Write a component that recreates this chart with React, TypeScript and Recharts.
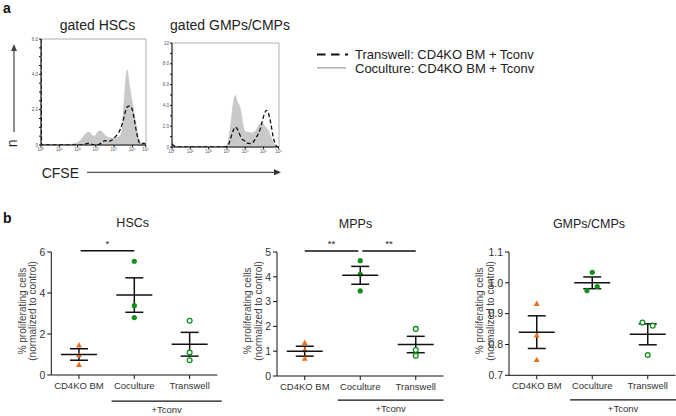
import React from 'react';
import {
  ComposedChart, Area, Line, XAxis, YAxis, ReferenceArea, Legend,
  ScatterChart, Scatter, ErrorBar, ReferenceLine, Label,
} from 'recharts';

const FONT = '"Liberation Sans", Arial, Helvetica, sans-serif';

// ---------------- Panel a: CFSE histograms (x = log10 decade) ----------------
const hscHistX = [0, 0.03, 0.5, 1.0, 1.5, 1.85, 2.1, 2.3, 2.5, 2.65, 2.8, 2.95, 3.05, 3.2, 3.35, 3.5, 3.7, 3.9, 4.1, 4.25, 4.35, 4.45, 4.55, 4.65, 4.72, 4.8, 4.9, 5.0, 5.1, 5.2, 5.3, 5.4, 5.5, 5.6, 5.73];
const hscCocultureCounts = [0, 0, 0.02, 0.02, 0.03, 0.08, 0.2, 0.45, 0.68, 0.72, 0.55, 0.5, 0.65, 0.8, 0.75, 0.55, 0.42, 0.4, 0.42, 0.45, 0.55, 1.0, 2.4, 3.8, 4.25, 3.7, 3.0, 2.4, 1.8, 1.2, 0.6, 0.25, 0.08, 0.02, 0];
const hscTranswellCounts = [6.0, 0, 0, 0, 0, 0, 0, 0.02, 0.08, 0.1, 0.03, 0, 0, 0.05, 0.15, 0.25, 0.2, 0.3, 0.5, 0.7, 0.9, 1.2, 1.6, 2.0, 2.15, 2.2, 2.2, 2.0, 1.5, 0.9, 0.4, 0.1, 0.05, 0.1, 0.05];

const gmpHistX = [0, 0.1, 0.3, 1, 2, 2.9, 3.05, 3.2, 3.35, 3.46, 3.58, 3.68, 3.78, 3.87, 3.96, 4.06, 4.2, 4.33, 4.45, 4.6, 4.8, 4.94, 5.05, 5.17, 5.26, 5.4, 5.54, 5.65, 5.72, 5.83];
const gmpCocultureCounts = [0, 0, 0, 0, 0.02, 0.05, 0.4, 2.0, 4.2, 4.97, 4.3, 4.0, 3.3, 2.25, 1.6, 1.45, 1.4, 1.35, 1.4, 1.6, 2.2, 2.3, 2.1, 1.8, 1.6, 1.0, 0.4, 0.1, 0, 0];
const gmpTranswellCounts = [0.3, 0.15, 0, 0, 0, 0.02, 0.1, 0.8, 1.6, 1.92, 1.7, 1.3, 0.9, 0.7, 0.6, 0.4, 0.35, 0.33, 0.5, 0.9, 1.6, 2.5, 3.2, 3.53, 3.3, 2.3, 0.9, 0.3, 0.05, 0];

const histTickLabels = ['10⁰', '10¹', '10²', '10³', '10⁴', '10⁵', '10⁶'];
const hscHistTicks = [0, 1, 2, 3, 4, 5, 5.73];
const gmpHistTicks = [0, 1, 2, 3, 4, 5, 5.83];
const hscHistYTicks = [0, 0.5, 1, 1.5, 2, 2.5, 3, 3.5, 4, 4.5, 5, 5.5, 6];
const hscHistYLabels = ['0', '', '', '', '2.0', '', '', '', '4.0', '', '', '', '6.0'];
const gmpHistYTicks = [0, 1, 2, 3, 4, 5, 6, 7, 8, 9, 10];
const gmpHistYLabels = ['0', '', '2.0', '', '4.0', '', '6.0', '', '8.0', '', '10'];

const transwellName = 'Transwell: CD4KO BM + Tconv';
const cocultureName = 'Coculture: CD4KO BM + Tconv';

// ---------------- Panel b: % proliferating cells ----------------
const categories = ['CD4KO BM', 'Coculture', 'Transwell'];

const hscCD4KO = [1.45, 0.97, 0.5];
const hscCoculture = [5.55, 3.38, 2.8];
const hscTranswell = [2.65, 1.1, 0.72];
const hscMeans = [1.0, 3.9, 1.5];
const hscSem = [0.28, 0.84, 0.58];
const hscJitter = [[0, 0, 0], [0, 0, 0], [0, 0, 0]];
const hscYTicks = [0, 2, 4, 6];
const hscYLabels = ['0', '2', '4', '6'];

const mppCD4KO = [1.34, 1.05, 0.7];
const mppCoculture = [4.65, 4.1, 3.43];
const mppTranswell = [1.9, 1.05, 0.82];
const mppMeans = [1.0, 4.06, 1.27];
const mppSem = [0.2, 0.36, 0.33];
const mppJitter = [[0, 0, 0], [0, 0, 0], [0, 0, 0]];
const mppYTicks = [0, 1, 2, 3, 4, 5];
const mppYLabels = ['0', '1', '2', '3', '4', '5'];

const gmpCD4KO = [0.932, 0.83, 0.75];
const gmpCoculture = [0.975, 1.034, 0.988];
const gmpTranswell = [0.871, 0.861, 0.766];
const gmpMeans = [0.84, 1.0, 0.833];
const gmpSem = [0.053, 0.019, 0.034];
const gmpJitter = [[0, 0, 0], [-0.095, 0, 0.09], [-0.095, 0.09, 0]];
const gmpYTicks = [0.7, 0.8, 0.9, 1.0, 1.1];
const gmpYLabels = ['0.7', '0.8', '0.9', '1.0', '1.1'];

// significance brackets and "+Tconv" group line, in data units
const hscSig = [{ x1: 0.03, x2: 1.0, y: 6.06, label: '*' }];
const mppSig = [
  { x1: 0.0, x2: 0.965, y: 5.04, label: '**' },
  { x1: 1.037, x2: 2.0, y: 5.04, label: '**' },
];
const gmpSig: any[] = [];
const hscTconv = { x1: 0.59, x2: 2.58, y: -1.27, label: '+Tconv' };
const mppTconv = { x1: 0.594, x2: 2.5, y: -0.97, label: '+Tconv' };
const gmpTconv = { x1: 0.6, x2: 2.51, y: 0.62, label: '+Tconv' };

const ORANGE = '#f36a14';
const GREEN = '#10901a';
const INK = '#111';

const pts = (vals: number[], cat: number, jit: number[]) => vals.map((v, i) => ({ x: cat + jit[i], y: v }));

const Triangle = (p: any) => (
  <polygon points={`${p.cx},${p.cy - 3.2} ${p.cx + 2.9},${p.cy + 2.2} ${p.cx - 2.9},${p.cy + 2.2}`} fill={ORANGE} />
);
const Dot = (p: any) => <circle cx={p.cx} cy={p.cy} r={2.6} fill={GREEN} />;
const OpenDot = (p: any) => <circle cx={p.cx} cy={p.cy} r={2.4} fill="#fff" stroke={GREEN} strokeWidth={1.3} />;
const MeanLine = (p: any) => (
  <line x1={p.cx - 18} x2={p.cx + 18} y1={p.cy} y2={p.cy} stroke={INK} strokeWidth={1.5} />
);

function HistPanel(props: any) {
  const { left, top, width, height, margin, xs, cc, tw, xMax, yMax, xTicks, yTicks, yLabels, legend } = props;
  const rows = xs.map((x: number, i: number) => ({ x, cc: cc[i], tw: tw[i] }));
  return (
    <div style={{ position: 'absolute', left, top }}>
      <ComposedChart width={width} height={height} margin={margin} data={rows}>
        <XAxis type="number" dataKey="x" domain={[0, xMax]} ticks={xTicks} interval={0}
          tickFormatter={(v: number) => histTickLabels[xTicks.indexOf(v)]}
          height={10} tickSize={2} tickMargin={1}
          axisLine={{ stroke: INK }} tickLine={{ stroke: INK }}
          tick={{ fontSize: 4.5, fill: '#555', fontFamily: FONT }} allowDataOverflow />
        <YAxis type="number" domain={[0, yMax]} ticks={yTicks} interval={0}
          tickFormatter={(v: number) => yLabels[yTicks.indexOf(v)]}
          width={20} tickSize={2} tickMargin={1}
          axisLine={{ stroke: INK }} tickLine={{ stroke: INK }}
          tick={{ fontSize: 4.5, fill: '#555', fontFamily: FONT }} allowDataOverflow />
        <ReferenceArea x1={0} x2={xMax} y1={0} y2={yMax} fill="none" stroke="#999" strokeWidth={0.8} />
        <Area dataKey="cc" name={cocultureName} type="monotone" fill="#c9c9c9" fillOpacity={1}
          stroke="#c2c2c2" strokeWidth={0.6} isAnimationActive={false} />
        <Line dataKey="tw" name={transwellName} type="monotone" stroke={INK} strokeWidth={1.3}
          strokeDasharray="4 2.5" dot={false} isAnimationActive={false} />
        {legend && (
          <Legend layout="horizontal" verticalAlign="middle" align="center"
            wrapperStyle={{ position: 'absolute', left: 167, top: 17.5, width: 240, height: 30 }}
            content={() => (
              <svg width={240} height={30} style={{ display: 'block', overflow: 'visible' }}>
                <line x1={0} x2={31} y1={6.5} y2={6.5} stroke={INK} strokeWidth={2} strokeDasharray="8.5 5.5" />
                <text x={38} y={11} fontSize={13} fill="#222" fontFamily={FONT}>{transwellName}</text>
                <line x1={0} x2={29} y1={19.8} y2={19.8} stroke="#b3b3b3" strokeWidth={1.6} />
                <text x={38} y={25} fontSize={13} fill="#222" fontFamily={FONT}>{cocultureName}</text>
              </svg>
            )} />
        )}
      </ComposedChart>
    </div>
  );
}

function ScatterPanel(props: any) {
  const { left, width, margin, yAxisWidth, domain, yTicks, yLabels, bm, co, tw, jitter, means, sems, sigs, tconv } = props;
  const meanRows = means.map((m: number, i: number) => ({ x: i, y: m, err: sems[i] }));
  const axisX = margin.left + yAxisWidth;
  const cy = 111;
  return (
    <div style={{ position: 'absolute', left, top: 200 }}>
      <ScatterChart width={width} height={216} margin={margin}>
        <XAxis type="number" dataKey="x" domain={[-0.5, 2.5]} ticks={[0, 1, 2]} interval={0}
          tickFormatter={(v: number) => categories[Math.round(v)]}
          height={16} tickSize={4} tickMargin={3}
          axisLine={{ stroke: INK }} tickLine={{ stroke: INK }}
          tick={{ fontSize: 9.5, fill: '#333', fontFamily: FONT }} allowDataOverflow />
        <YAxis type="number" dataKey="y" domain={domain} ticks={yTicks} interval={0}
          tickFormatter={(v: number) => yLabels[yTicks.indexOf(v)]}
          width={yAxisWidth} tickSize={4} tickMargin={2}
          axisLine={{ stroke: INK }} tickLine={{ stroke: INK }}
          tick={{ fontSize: 10.5, fill: '#333', fontFamily: FONT }} allowDataOverflow>
          <Label content={() => (
            <g fontFamily={FONT} fontSize={10} fill="#444">
              <text x={axisX - 25.8} y={cy} textAnchor="middle" transform={`rotate(-90 ${axisX - 25.8} ${cy})`}>% proliferating cells</text>
              <text x={axisX - 15.3} y={cy} textAnchor="middle" transform={`rotate(-90 ${axisX - 15.3} ${cy})`}>(normalized to control)</text>
            </g>
          )} />
        </YAxis>
        {sigs.map((s: any, i: number) => (
          <ReferenceLine key={i} segment={[{ x: s.x1, y: s.y }, { x: s.x2, y: s.y }]} ifOverflow="visible"
            stroke={INK} strokeWidth={1.3}
            label={{ value: s.label, position: 'top', offset: 4, fontSize: 9.5, fill: '#222', fontFamily: FONT }} />
        ))}
        <ReferenceLine segment={[{ x: tconv.x1, y: tconv.y }, { x: tconv.x2, y: tconv.y }]} ifOverflow="visible"
          stroke={INK} strokeWidth={1.3}
          label={{ value: tconv.label, position: 'bottom', offset: 5.5, fontSize: 9.5, fill: '#333', fontFamily: FONT }} />
        <Scatter data={pts(bm, 0, jitter[0])} shape={Triangle} isAnimationActive={false} />
        <Scatter data={pts(co, 1, jitter[1])} shape={Dot} isAnimationActive={false} />
        <Scatter data={pts(tw, 2, jitter[2])} shape={OpenDot} isAnimationActive={false} />
        <Scatter data={meanRows} shape={MeanLine} isAnimationActive={false}>
          <ErrorBar dataKey="err" direction="y" width={9} stroke={INK} strokeWidth={1.5} isAnimationActive={false} />
        </Scatter>
      </ScatterChart>
    </div>
  );
}

export default function App() {
  return (
    <div style={{ position: 'absolute', left: 0, top: 0, width: 676, height: 416, overflow: 'hidden', background: '#fff', fontFamily: FONT }}>
      <HistPanel left={0} top={30} width={160} height={130}
        margin={{ top: 9, right: 14, bottom: 5, left: 21 }}
        xs={hscHistX} cc={hscCocultureCounts} tw={hscTranswellCounts}
        xMax={5.75} yMax={6} xTicks={hscHistTicks} yTicks={hscHistYTicks} yLabels={hscHistYLabels} />
      <HistPanel left={150} top={30} width={526} height={130}
        margin={{ top: 13, right: 397, bottom: 3, left: 2 }}
        xs={gmpHistX} cc={gmpCocultureCounts} tw={gmpTranswellCounts}
        xMax={5.85} yMax={10} xTicks={gmpHistTicks} yTicks={gmpHistYTicks} yLabels={gmpHistYLabels} legend />

      <ScatterPanel left={0} width={225} margin={{ top: 52, right: 7.7, bottom: 25, left: 15.3 }} yAxisWidth={36}
        domain={[0, 6]} yTicks={hscYTicks} yLabels={hscYLabels}
        bm={hscCD4KO} co={hscCoculture} tw={hscTranswell} jitter={hscJitter}
        means={hscMeans} sems={hscSem} sigs={hscSig} tconv={hscTconv} />
      <ScatterPanel left={225} width={225} margin={{ top: 52, right: 6.5, bottom: 24, left: 16 }} yAxisWidth={36}
        domain={[0, 5]} yTicks={mppYTicks} yLabels={mppYLabels}
        bm={mppCD4KO} co={mppCoculture} tw={mppTranswell} jitter={mppJitter}
        means={mppMeans} sems={mppSem} sigs={mppSig} tconv={mppTconv} />
      <ScatterPanel left={450} width={226} margin={{ top: 52, right: 0.5, bottom: 24.7, left: 15 }} yAxisWidth={44}
        domain={[0.7, 1.1]} yTicks={gmpYTicks} yLabels={gmpYLabels}
        bm={gmpCD4KO} co={gmpCoculture} tw={gmpTranswell} jitter={gmpJitter}
        means={gmpMeans} sems={gmpSem} sigs={gmpSig} tconv={gmpTconv} />

      <svg width={676} height={416} style={{ position: 'absolute', left: 0, top: 0, pointerEvents: 'none' }} fontFamily={FONT}>
        <text x={3} y={13} fontSize={14} fontWeight="bold" fill="#111">a</text>
        <text x={3} y={223} fontSize={14} fontWeight="bold" fill="#111">b</text>
        <text x={97.5} y={30} fontSize={14} textAnchor="middle" fill="#222">gated HSCs</text>
        <text x={230} y={30} fontSize={14} textAnchor="middle" fill="#222">gated GMPs/CMPs</text>
        <line x1={14} x2={14} y1={132} y2={50} stroke="#444" strokeWidth={1.2} />
        <polygon points="14,44 11,51 17,51" fill="#444" />
        <text x={17} y={143.3} fontSize={14} textAnchor="middle" fill="#222" transform="rotate(-90 17 143.3)">n</text>
        <text x={41.7} y={178} fontSize={14} fill="#222">CFSE</text>
        <line x1={87} x2={275} y1={172.3} y2={172.3} stroke="#555" strokeWidth={1.2} />
        <polygon points="281,172.3 274,169.3 274,175.3" fill="#333" />
        <text x={132.7} y={226.7} fontSize={12.5} textAnchor="middle" fill="#222">HSCs</text>
        <text x={355.5} y={227.7} fontSize={12.5} textAnchor="middle" fill="#222">MPPs</text>
        <text x={589} y={227.7} fontSize={12.5} textAnchor="middle" fill="#222">GMPs/CMPs</text>
      </svg>
    </div>
  );
}
